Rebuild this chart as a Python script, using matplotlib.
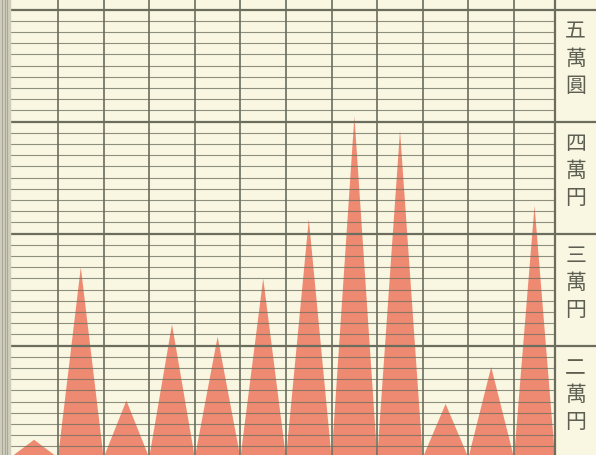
import matplotlib.pyplot as plt
import numpy as np

plt.rcParams['font.family'] = ['Noto Sans CJK JP', 'DejaVu Sans']

# peak value (yen) of each column
peaks = [11600, 27000, 15100, 21900, 20800, 26000, 31300, 40500, 39200, 14800, 18100, 32500]
base_value = 10000

# right-hand scale labels
label_values = [50000, 40000, 30000, 20000]
label_texts = ['五萬圓', '四萬円', '三萬円', '二萬円']

bg = '#f9f6e1'
line_col = '#6b6e5e'
fill_col = '#ef8a72'

fig = plt.figure(figsize=(5.96, 4.56), dpi=100)
fig.patch.set_facecolor(bg)
ax = fig.add_axes([0, 0, 1, 1])
ax.set_facecolor(bg)

# column boundaries: vertical lines at 0..10, outer borders a bit further out
left_edge = -1.05
right_edge = 10.9
bounds = [left_edge] + list(range(0, 11)) + [right_edge]

# triangles, apex at the middle of each column
xs, ys = [], []
for i, p in enumerate(peaks):
    x0, x1 = bounds[i], bounds[i + 1]
    xs += [x0, (x0 + x1) / 2]
    ys += [base_value, p]
xs.append(bounds[-1])
ys.append(base_value)
ax.fill(xs + [xs[0]], ys + [base_value], color=fill_col, lw=0, zorder=1)

# minor ruling every 1000 yen
for v in range(11000, 51000, 1000):
    if v % 10000 == 0:
        continue
    ax.plot([left_edge, right_edge], [v, v], color=line_col, lw=0.8, alpha=0.75, zorder=2)

# major ruling every 10000 yen, running into the label column
xl = -1.272
xr = 11.798
for v in range(20000, 51000, 10000):
    ax.plot([left_edge, xr], [v, v], color=line_col, lw=1.6, zorder=3)

# vertical rules
for b in bounds:
    ax.axvline(b, color=line_col, lw=1.2, zorder=3)
ax.axvline(right_edge, color=line_col, lw=1.6, zorder=3)

# binding strip on the left
ax.axvspan(xl, left_edge, color='#cfcdbb', zorder=4)
for xx in [-1.23, -1.17, -1.11]:
    ax.axvline(xx, color='#a9a898', lw=0.8, zorder=5)

# scale labels
for v, t in zip(label_values, label_texts):
    ax.text(11.35, v - 4300, '\n'.join(t), ha='center', va='center',
            fontsize=15, color='#5d5f52', linespacing=1.3, zorder=6)

ax.set_xlim(xl, xr)
ax.set_ylim(10240, 50955)
ax.axis('off')

fig.savefig('out.png', dpi=100, facecolor=bg)
